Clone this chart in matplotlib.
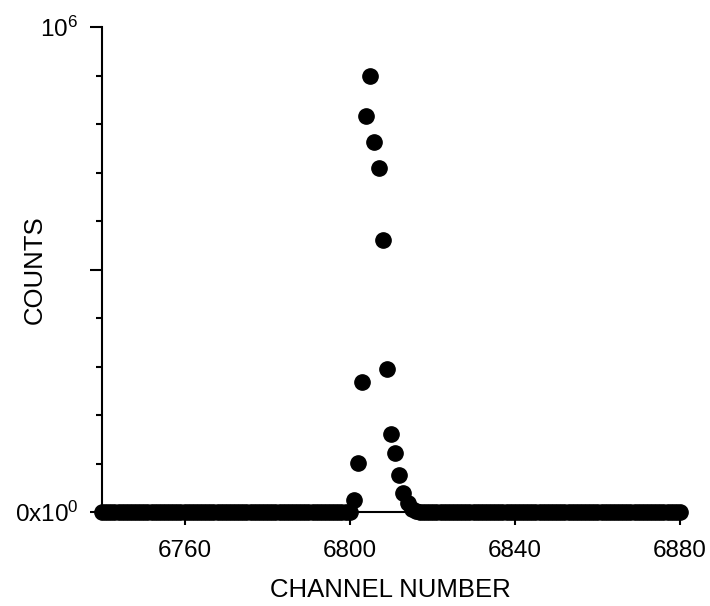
import matplotlib
matplotlib.use("Agg")
import matplotlib.pyplot as plt
from matplotlib.ticker import FixedLocator, MultipleLocator

plt.rcParams['font.family'] = ['Liberation Sans', 'DejaVu Sans']
plt.rcParams['mathtext.fontset'] = 'custom'
plt.rcParams['mathtext.rm'] = 'Liberation Sans'

channels = list(range(6740, 6881))
left_zeros = [0] * 61            # channels 6740..6800
peak = [25000, 101000, 268000, 816000, 899000, 763000, 709000, 561000,
        295000, 161000, 122000, 76000, 39000, 18000, 6000, 1500]  # 6801..6816
right_zeros = [0] * 64           # channels 6817..6880
counts = left_zeros + peak + right_zeros

xticks = [6760, 6800, 6840, 6880]
xlabels = ["6760", "6800", "6840", "6880"]
yticks = [0, 500000, 1000000]
ylabels = [r"$\mathregular{0x10^{0}}$", "", r"$\mathregular{10^{6}}$"]

fig = plt.figure(figsize=(7.10, 6.06), dpi=100)
ax = fig.add_axes([102/710, 1-512/606, (680-102)/710, (512-27)/606])

ax.plot(channels, counts, linestyle='none', marker='o', color='black',
        markersize=11, clip_on=False, zorder=5)

ax.set_xlim(6740, 6880)
ax.set_ylim(0, 1000000)
ax.xaxis.set_major_locator(FixedLocator(xticks))
ax.set_xticklabels(xlabels)
ax.yaxis.set_major_locator(FixedLocator(yticks))
ax.yaxis.set_minor_locator(MultipleLocator(100000))
ax.set_yticklabels(ylabels)

for s in ['top', 'right']:
    ax.spines[s].set_visible(False)
for s in ['left', 'bottom']:
    ax.spines[s].set_linewidth(1.5)

ax.tick_params(axis='x', which='major', direction='out', length=9, width=1.5,
               labelsize=17.5, pad=11)
ax.tick_params(axis='y', which='major', direction='out', length=9, width=1.5,
               labelsize=17.5, pad=8)
ax.tick_params(axis='y', which='minor', direction='out', length=4.5, width=1.5)

fig.text(390/710, 1-590/606, "CHANNEL NUMBER", fontsize=18.5,
         ha='center', va='center')
fig.text(35/710, 1-270/606, "COUNTS", fontsize=18.5, rotation=90,
         ha='center', va='center')

fig.savefig("out.png", dpi=100)
